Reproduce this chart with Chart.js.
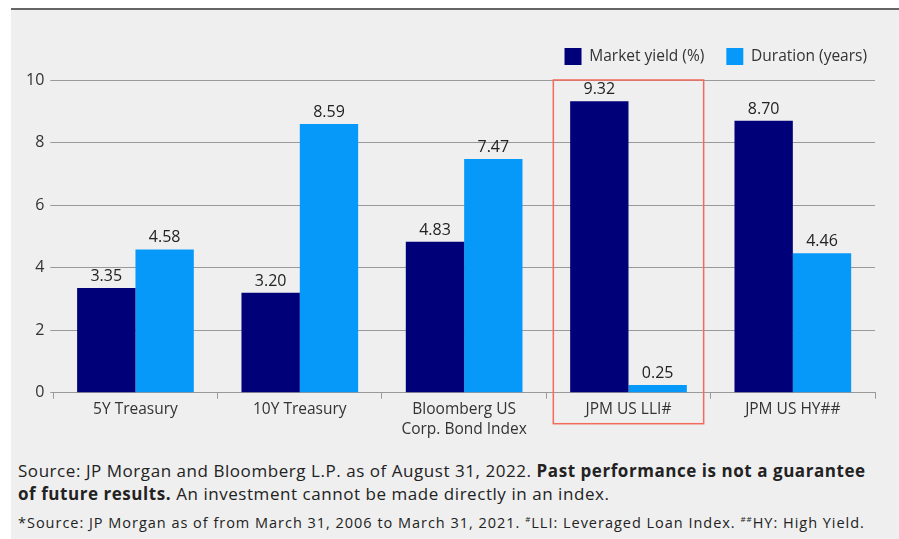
<!DOCTYPE html>
<html>
<head>
<meta charset="utf-8">
<script src="https://cdn.jsdelivr.net/npm/chart.js@4"></script>
<style>
  body { margin: 0; background: #fff; font-family: "Open Sans", sans-serif; }
  #panel { position: absolute; left: 11px; top: 8px; width: 888px; height: 531px; background: #efefef; border-top: 2px solid #666; box-sizing: border-box; }
  #wrap { position: absolute; left: 0; top: 0; width: 888px; height: 440px; }
  .note { position: absolute; left: 7px; color: #222; white-space: nowrap; }
  #n1 { top: 449px; font-size: 17px; line-height: 23px; letter-spacing: 0.55px; }
  #n2 { top: 503px; font-size: 14.5px; letter-spacing: 0.98px; }
  sup { font-size: 8px; }
</style>
</head>
<body>
<div id="panel">
  <div id="wrap"><canvas id="barChart"></canvas></div>
  <div class="note" id="n1">Source: JP Morgan and Bloomberg L.P. as of August 31, 2022. <b>Past performance is not a guarantee</b><br><b>of future results.</b> An investment cannot be made directly in an index.</div>
  <div class="note" id="n2">*Source: JP Morgan as of from March 31, 2006 to March 31, 2021. <sup>#</sup>LLI: Leveraged Loan Index. <sup>##</sup>HY: High Yield.</div>
</div>
<script>
const categories = ['5Y Treasury', '10Y Treasury', ['Bloomberg US', 'Corp. Bond Index'], 'JPM US LLI#', 'JPM US HY##'];
const marketYield = [3.35, 3.20, 4.83, 9.32, 8.70];
const duration = [4.58, 8.59, 7.47, 0.25, 4.46];
const yTicks = [0, 2, 4, 6, 8, 10];
const highlightIndex = 3;

const valueLabels = {
    id: 'valueLabels',
    afterDatasetsDraw(chart) {
        const ctx = chart.ctx;
        ctx.save();
        ctx.font = '16px "Open Sans"';
        ctx.fillStyle = '#222';
        ctx.textAlign = 'center';
        ctx.textBaseline = 'alphabetic';
        chart.data.datasets.forEach((ds, i) => {
            chart.getDatasetMeta(i).data.forEach((bar, j) => {
                ctx.fillText(ds.data[j].toFixed(2), bar.x, bar.y - 7);
            });
        });
        ctx.restore();
    }
};

const highlightBox = {
    id: 'highlightBox',
    afterDraw(chart) {
        const x = chart.scales.x, y = chart.scales.y;
        const half = (x.getPixelForValue(1) - x.getPixelForValue(0)) / 2;
        const cx = x.getPixelForValue(highlightIndex);
        const ctx = chart.ctx;
        ctx.save();
        ctx.strokeStyle = '#f26b5b';
        ctx.lineWidth = 1.5;
        ctx.strokeRect(cx - half + 7, y.getPixelForValue(10), 2 * half - 14, y.bottom + 31 - y.getPixelForValue(10));
        ctx.restore();
    }
};

// extra room under the legend, and nudge the legend to the right place
const legendMargin = {
    id: 'legendMargin',
    beforeInit(chart) {
        const fit = chart.legend.fit;
        chart.legend.fit = function () {
            fit.bind(chart.legend)();
            this.height += 3;
        };
    },
    afterLayout(chart) {
        const lg = chart.legend;
        lg.left += 14; lg.right += 14;
        lg.top -= 2; lg.bottom -= 2;
    }
};

const ctx = document.getElementById('barChart').getContext('2d');
const barChart = new Chart(ctx, {
    type: 'bar',
    data: {
        labels: categories,
        datasets: [
            { label: 'Market yield (%)', data: marketYield, backgroundColor: '#000078' },
            { label: 'Duration (years)', data: duration, backgroundColor: '#0799fa' }
        ]
    },
    options: {
        responsive: true,
        maintainAspectRatio: false,
        animation: false,
        categoryPercentage: 0.71,
        barPercentage: 1,
        layout: { padding: { left: 9, right: 24, top: 18, bottom: 9 } },
        plugins: {
            legend: {
                position: 'top',
                align: 'end',
                labels: {
                    boxWidth: 17,
                    boxHeight: 17,
                    color: '#333',
                    font: { family: 'Open Sans', size: 15.5 },
                    padding: 22
                }
            },
            tooltip: { enabled: false }
        },
        scales: {
            x: {
                grid: { display: true, drawOnChartArea: false, color: '#999', tickLength: 6, offset: true },
                border: { color: '#999' },
                ticks: { color: '#333', padding: 1, font: { family: 'Open Sans', size: 15.5, lineHeight: 1.3 } }
            },
            y: {
                min: 0,
                max: 10,
                afterBuildTicks(axis) { axis.ticks = yTicks.map(v => ({ value: v })); },
                grid: { color: '#999', tickLength: 3 },
                border: { display: false },
                ticks: { color: '#333', font: { family: 'Open Sans', size: 16 }, padding: 6 }
            }
        }
    },
    plugins: [valueLabels, highlightBox, legendMargin]
});
</script>
</body>
</html>
